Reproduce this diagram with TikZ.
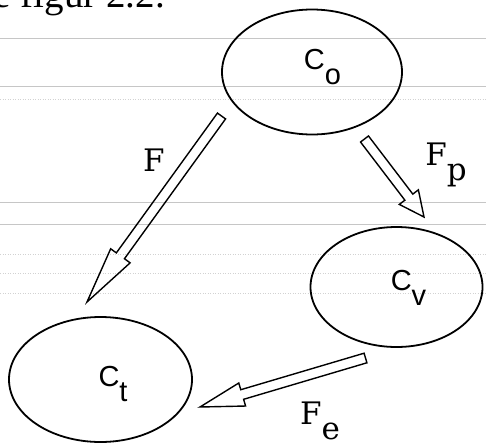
\documentclass[tikz,border=0pt]{standalone}
\usepackage{fontspec}
\usepackage{tikz}
\usetikzlibrary{shapes,arrows,positioning,calc}
\setmainfont{Liberation Serif}
\newfontfamily\statefont{Liberation Sans}
\newfontfamily\flowfont{DejaVu Serif}

% lowered index letter
\newcommand{\lowsub}[1]{\raisebox{-15pt}{#1}}
% hollow flow arrow: name, tail, tip, head length
\newcommand{\flowarrow}[4]{%
    \coordinate (#1-base) at ($(#3)!#4!(#2)$);
    \draw[flow] ($(#2)!5pt!90:(#3)$) -- ($(#1-base)!5pt!90:(#3)$)
        -- ($(#1-base)!12pt!90:(#3)$) -- (#3)
        -- ($(#1-base)!12pt!-90:(#3)$) -- ($(#1-base)!5pt!-90:(#3)$)
        -- ($(#2)!5pt!-90:(#3)$) -- cycle;
}

\begin{document}
\begin{tikzpicture}[
    x=1pt, y=-1pt,
    state/.style={ellipse, draw, line width=1.8pt, inner sep=0pt, minimum width=180pt, minimum height=125pt},
    statelbl/.style={inner sep=0pt, font=\statefont\fontsize{29}{29}\selectfont},
    flowlbl/.style={inner sep=0pt, font=\flowfont\fontsize{31}{31}\selectfont},
    flow/.style={line width=1.4pt, line join=miter},
    ruling/.style={gray!45, line width=0.5pt},
    faint/.style={gray!35, line width=0.5pt, dotted}
]
    \useasboundingbox (0,0) rectangle (486,444);

    % ruled lines of the scanned page
    \foreach \yy in {38,86,202,224}
        \draw[ruling] (0,\yy) -- (486,\yy);
    \foreach \yy in {99,254,273,293}
        \draw[faint] (0,\yy) -- (486,\yy);

    % cut-off line of text above the figure
    \node[anchor=base east, inner sep=0pt, font=\fontsize{39}{39}\selectfont] (ref) at (165,8) {e figur 2.2.};

    % compartments
    \node[state] (co) at (312,72) {};
    \node[state, minimum width=172pt, minimum height=120pt] (cv) at (396.5,287) {};
    \node[state, minimum width=183pt] (ct) at (100.5,379.5) {};

    \node[statelbl] (colbl) at ([shift={(10.5,-5)}]co.center) {C\lowsub{o}};
    \node[statelbl] (cvlbl) at ([shift={(12,0.5)}]cv.center) {C\lowsub{v}};
    \node[statelbl] (ctlbl) at ([shift={(12.5,4)}]ct.center) {C\lowsub{t}};

    % arrow ends
    \coordinate (ftail) at (221.5,116);
    \coordinate (ftip) at (87,302);
    \coordinate (fptail) at (364.5,139);
    \coordinate (fptip) at (424,217);
    \coordinate (fetail) at (365.5,358);
    \coordinate (fetip) at (200,407);

    % flows
    \flowarrow{f}{ftail}{ftip}{57pt}
    \flowarrow{fp}{fptail}{fptip}{25pt}
    \flowarrow{fe}{fetail}{fetip}{44pt}

    \node[flowlbl] (flbl) at (154,160) {F};
    \node[flowlbl] (fplbl) at (446,165) {F\lowsub{p}};
    \node[flowlbl] (felbl) at (320,421) {F\lowsub{e}};

\end{tikzpicture}
\end{document}
